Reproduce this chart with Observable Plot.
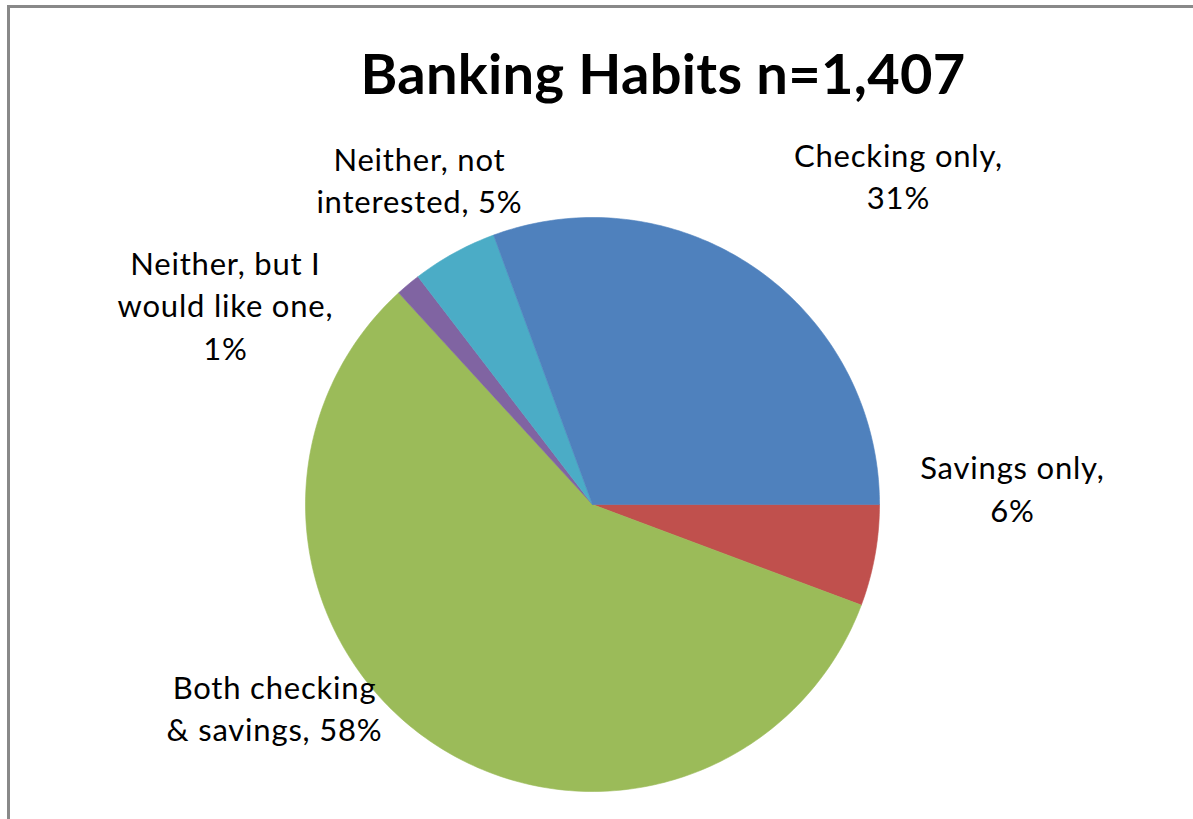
<!DOCTYPE html>
<html><head><meta charset="utf-8">
<script src="https://cdn.jsdelivr.net/npm/d3@7"></script>
<script src="https://cdn.jsdelivr.net/npm/@observablehq/plot@0.6"></script>
<style>
html,body{margin:0;padding:0;background:#fff;}
#wrap{position:relative;width:1193px;height:819px;overflow:hidden;background:#fff;}
#frame{position:absolute;left:7px;top:5px;width:2000px;height:2000px;border-left:3px solid #898989;border-top:3px solid #898989;}
#title{position:absolute;top:45px;left:663px;transform:translateX(-50%);font-family:Lato;font-weight:bold;font-size:56px;white-space:nowrap;line-height:1;color:#000;letter-spacing:0.3px;}
#chart{position:absolute;left:0;top:115px;}
</style></head><body>
<div id="wrap"><div id="frame"></div><div id="title">Banking Habits n=1,407</div><div id="chart"></div></div>
<script>
// Slices in drawing order, clockwise from 3 o'clock
const categories = ["Savings only", "Both checking & savings", "Neither, but I would like one", "Neither, not interested", "Checking only"];
const shares = [5.7, 57.5, 1.4, 4.8, 30.6];
const labelNames = ["Savings only,\n", "Both checking\n& savings, ", "Neither, but I\nwould like one,\n", "Neither, not\ninterested, ", "Checking only,\n"];
const colors = ["#C0504D", "#9BBB59", "#8064A2", "#4BACC6", "#4F81BD"];
// label layout, in units of the pie radius from its centre
const labelX = [1.463, -1.108, -1.279, -0.603, 1.066];
const labelY = [0.061, -0.704, 0.700, 1.136, 1.150];

const arcs = d3.pie().sort(null).value(d => d)
  .startAngle(Math.PI / 2).endAngle(Math.PI / 2 + 2 * Math.PI)(shares);

const pts = [];
arcs.forEach((a, i) => {
  const cat = categories[i];
  pts.push({cat, x: 0, y: 0});
  const n = Math.max(2, Math.ceil((a.endAngle - a.startAngle) / (Math.PI / 180)));
  for (let k = 0; k <= n; k++) {
    const t = a.startAngle + (a.endAngle - a.startAngle) * k / n;
    pts.push({cat, x: Math.sin(t), y: Math.cos(t)});
  }
  pts.push({cat, x: 0, y: 0});
});

const labels = categories.map((c, i) => ({
  x: labelX[i], y: labelY[i],
  text: labelNames[i] + Math.round(shares[i]) + "%"
}));

const chart = Plot.plot({
  width: 1193,
  height: 704,
  margin: 0,
  style: {background: "transparent", letterSpacing: "0.8px"},
  x: {domain: [-1, 1], range: [305, 879], axis: null},
  y: {domain: [-1, 1], range: [676, 102], axis: null},
  color: {domain: categories, range: colors},
  marks: [
    Plot.line(pts, {x: "x", y: "y", z: "cat", fill: "cat", stroke: "cat", strokeWidth: 0.6, curve: "linear"}),
    Plot.text(labels, {x: "x", y: "y", text: "text", fontSize: 31, fontFamily: "Lato", lineHeight: 1.37, fill: "#000", textAnchor: "middle"})
  ]
});
document.getElementById("chart").appendChild(chart);
</script>
</body></html>
